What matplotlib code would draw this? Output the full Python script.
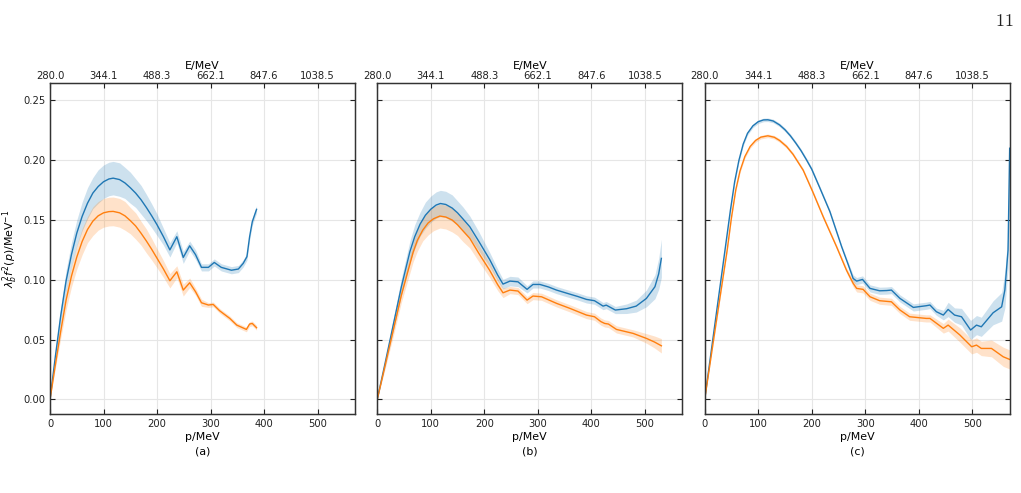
import numpy as np
import matplotlib.pyplot as plt

## data
# panel (a)
pa_b = [0, 10, 20, 30, 40, 50, 60, 70, 80, 90, 100, 110, 118, 130, 140, 150, 160, 170,
        180, 190, 200, 212, 224, 237, 249, 261, 272, 283, 296, 307, 320, 339, 352, 361,
        368, 373, 378, 386]
ya_b = [0, 0.036, 0.070, 0.099, 0.121, 0.139, 0.153, 0.164, 0.1725, 0.178, 0.182, 0.1843,
        0.185, 0.1838, 0.181, 0.177, 0.1725, 0.167, 0.1605, 0.1535, 0.146, 0.136, 0.125,
        0.136, 0.1187, 0.1284, 0.121, 0.1104, 0.1104, 0.1145, 0.1104, 0.108, 0.109, 0.1137,
        0.1193, 0.136, 0.1485, 0.1589]
ea_b = [0, 0.004, 0.007, 0.009, 0.010, 0.011, 0.012, 0.013, 0.013, 0.014, 0.014, 0.014,
        0.014, 0.014, 0.013, 0.013, 0.012, 0.012, 0.011, 0.010, 0.009, 0.007, 0.006, 0.005,
        0.005, 0.004, 0.004, 0.003, 0.003, 0.003, 0.003, 0.003, 0.003, 0.003, 0.003, 0.003,
        0.003, 0.003]
pa_o = [0, 10, 20, 30, 40, 50, 60, 70, 80, 90, 100, 110, 118, 130, 140, 150, 160, 170,
        180, 190, 200, 212, 224, 237, 249, 261, 272, 283, 296, 305, 317, 336, 349, 367,
        373, 378, 386]
ya_o = [0, 0.029, 0.057, 0.083, 0.103, 0.119, 0.132, 0.142, 0.149, 0.1535, 0.156, 0.157,
        0.1572, 0.156, 0.1535, 0.1495, 0.145, 0.139, 0.1325, 0.1255, 0.118, 0.109, 0.0992,
        0.1067, 0.0914, 0.0975, 0.090, 0.0808, 0.0789, 0.0794, 0.0741, 0.0677, 0.0621,
        0.0585, 0.063, 0.0635, 0.0599]
ea_o = [0, 0.003, 0.006, 0.008, 0.009, 0.010, 0.011, 0.011, 0.012, 0.012, 0.012, 0.012,
        0.012, 0.012, 0.012, 0.011, 0.011, 0.010, 0.010, 0.009, 0.008, 0.007, 0.006, 0.005,
        0.005, 0.004, 0.003, 0.003, 0.002, 0.002, 0.002, 0.002, 0.002, 0.002, 0.002, 0.002,
        0.002]

# panel (b)
pb_b = [0, 15, 30, 45, 61, 70, 80, 90, 100, 110, 118, 128, 140, 150, 160, 173, 190, 210,
        225, 235, 248, 263, 280, 291, 304, 320, 335, 360, 375, 391, 406, 415, 422, 428, 445,
        466, 484, 503, 519, 526, 531]
yb_b = [0, 0.031, 0.0625, 0.094, 0.1235, 0.136, 0.1465, 0.154, 0.159, 0.1625, 0.1638,
        0.163, 0.160, 0.156, 0.151, 0.1443, 0.132, 0.117, 0.104, 0.0964, 0.0989, 0.0983,
        0.092, 0.0961, 0.0961, 0.094, 0.0914, 0.088, 0.086, 0.0836, 0.0825, 0.080, 0.078,
        0.0788, 0.0747, 0.0758, 0.078, 0.0844, 0.0942, 0.105, 0.1179]
eb_b = [0, 0.003, 0.005, 0.007, 0.009, 0.010, 0.010, 0.011, 0.011, 0.011, 0.011, 0.011,
        0.011, 0.010, 0.010, 0.009, 0.008, 0.006, 0.005, 0.004, 0.004, 0.004, 0.003, 0.003,
        0.003, 0.003, 0.003, 0.003, 0.003, 0.003, 0.003, 0.003, 0.003, 0.003, 0.003, 0.004,
        0.005, 0.007, 0.010, 0.013, 0.016]
pb_o = [0, 15, 30, 45, 67, 75, 85, 95, 105, 117, 128, 140, 150, 160, 173, 190, 210, 225,
        235, 248, 263, 280, 291, 307, 335, 360, 391, 406, 418, 425, 432, 447, 478, 503, 518,
        531]
yb_o = [0, 0.029, 0.058, 0.087, 0.123, 0.133, 0.1415, 0.1475, 0.151, 0.1533, 0.1525,
        0.150, 0.146, 0.141, 0.1346, 0.122, 0.108, 0.096, 0.0891, 0.0914, 0.0906, 0.083,
        0.0864, 0.0858, 0.0803, 0.0761, 0.0705, 0.0691, 0.065, 0.0635, 0.063, 0.0585,
        0.0552, 0.051, 0.048, 0.0448]
eb_o = [0, 0.003, 0.005, 0.006, 0.008, 0.009, 0.009, 0.010, 0.010, 0.010, 0.010, 0.010,
        0.009, 0.009, 0.008, 0.007, 0.006, 0.005, 0.004, 0.003, 0.003, 0.003, 0.003, 0.003,
        0.003, 0.003, 0.003, 0.003, 0.003, 0.003, 0.003, 0.003, 0.003, 0.004, 0.005, 0.006]

# panel (c)
pc_b = [0, 20, 38, 48, 56, 64, 72, 80, 90, 100, 110, 118, 128, 140, 150, 160, 170, 180,
        190, 200, 215, 234, 256, 268, 277.5, 284, 295, 309, 327, 340, 349, 365, 390, 414,
        421, 433, 446, 455, 467, 480, 497, 508, 517, 539, 555, 561, 567, 570]
yc_b = [0, 0.066, 0.125, 0.158, 0.182, 0.200, 0.2135, 0.2225, 0.2287, 0.2322, 0.2337,
        0.2338, 0.2328, 0.2295, 0.2255, 0.2205, 0.2145, 0.208, 0.2005, 0.1925, 0.177, 0.157,
        0.1276, 0.113, 0.1011, 0.0989, 0.1003, 0.0928, 0.0908, 0.091, 0.0914, 0.0844,
        0.0769, 0.0783, 0.0789, 0.0733, 0.0705, 0.0752, 0.0705, 0.0691, 0.058, 0.0621,
        0.0607, 0.0724, 0.0774, 0.0914, 0.1248, 0.21]
ec_b = [0, 0.0015, 0.0015, 0.0015, 0.0015, 0.0015, 0.0015, 0.0015, 0.0015, 0.0015, 0.0015,
        0.0015, 0.0015, 0.0015, 0.0015, 0.0015, 0.0015, 0.0015, 0.0015, 0.0015, 0.0015,
        0.0015, 0.0015, 0.002, 0.003, 0.003, 0.003, 0.003, 0.003, 0.003, 0.003, 0.003,
        0.003, 0.003, 0.003, 0.003, 0.004, 0.006, 0.006, 0.007, 0.008, 0.008, 0.008, 0.010,
        0.012, 0.015, 0.015, 0.015]
pc_o = [0, 20, 42, 50, 58, 66, 75, 85, 95, 105, 118, 130, 140, 153, 165, 175, 184, 202,
        221.5, 246.5, 265, 277.5, 284, 296, 309, 327, 349, 365, 383, 414, 421, 446, 455,
        477, 499, 508, 517, 536, 558, 570]
yc_o = [0, 0.060, 0.1248, 0.152, 0.175, 0.191, 0.203, 0.2115, 0.2165, 0.2193, 0.2204,
        0.2192, 0.2165, 0.2115, 0.205, 0.198, 0.1917, 0.1735, 0.1527, 0.1276, 0.108, 0.097,
        0.0928, 0.092, 0.0858, 0.0825, 0.0816, 0.0747, 0.0691, 0.0677, 0.0677, 0.0594,
        0.0621, 0.0538, 0.044, 0.0454, 0.0426, 0.0426, 0.0356, 0.0334]
ec_o = [0, 0.0015, 0.0015, 0.0015, 0.0015, 0.0015, 0.0015, 0.0015, 0.0015, 0.0015, 0.0015,
        0.0015, 0.0015, 0.0015, 0.0015, 0.0015, 0.0015, 0.0015, 0.0015, 0.0015, 0.002,
        0.003, 0.003, 0.003, 0.003, 0.003, 0.003, 0.003, 0.003, 0.003, 0.003, 0.004, 0.005,
        0.006, 0.006, 0.006, 0.006, 0.007, 0.008, 0.008]

panel_labels = ["(a)", "(b)", "(c)"]
p_ticks = [0, 100, 200, 300, 400, 500]
E_labels = ["280.0", "344.1", "488.3", "662.1", "847.6", "1038.5"]
y_ticks = [0.00, 0.05, 0.10, 0.15, 0.20, 0.25]

panels = [
    (pa_b, ya_b, ea_b, pa_o, ya_o, ea_o),
    (pb_b, yb_b, eb_b, pb_o, yb_o, eb_o),
    (pc_b, yc_b, ec_b, pc_o, yc_o, ec_o),
]

plt.rcParams["font.family"] = "DejaVu Sans"
fig = plt.figure(figsize=(10.21, 4.93), dpi=100)

lefts = [0.049, 0.3695, 0.6902]
axes = []
for k in range(3):
    ax = fig.add_axes([lefts[k], 0.1596, 0.2987, 0.6714])
    axes.append(ax)
    pb, yb, eb, po, yo, eo = panels[k]
    pb, yb, eb = np.array(pb), np.array(yb), np.array(eb)
    po, yo, eo = np.array(po), np.array(yo), np.array(eo)

    ax.fill_between(pb, yb - eb, yb + eb, color="tab:blue", alpha=0.22, lw=0)
    ax.fill_between(po, yo - eo, yo + eo, color="tab:orange", alpha=0.22, lw=0)
    ax.plot(pb, yb, color="tab:blue", lw=1.0)
    ax.plot(po, yo, color="tab:orange", lw=1.0)

    ax.set_xlim(0, 570)
    ax.set_ylim(-0.0125, 0.2643)
    ax.set_xticks(p_ticks)
    ax.set_yticks(y_ticks)
    ax.grid(True, color="#e6e6e6", lw=0.8)
    ax.set_axisbelow(True)
    ax.tick_params(direction="in", top=False, right=True, labelsize=7.2,
                   colors="#222222", length=3.5)
    if k > 0:
        ax.set_yticklabels([])
    for s in ax.spines.values():
        s.set_color("#333333")
        s.set_linewidth(1.0)
    ax.set_xlabel("p/MeV\n" + panel_labels[k], fontsize=7.9, linespacing=1.6, labelpad=2)

    top = ax.twiny()
    top.set_xlim(ax.get_xlim())
    top.set_xticks(p_ticks)
    top.set_xticklabels(E_labels)
    top.tick_params(direction="in", labelsize=7.2, colors="#222222", length=3.5, pad=2)
    top.set_xlabel("E/MeV", fontsize=7.9, labelpad=1)
    for s in top.spines.values():
        s.set_color("#333333")

axes[0].set_ylabel(r"$\lambda_b^2f^2(p)$/MeV$^{-1}$", fontsize=7.9, labelpad=2)

# page number of the paper
fig.text(0.993, 0.975, r"$\mathrm{11}$", ha="right", va="top", fontsize=13,
         math_fontfamily="cm", color="#222222")

plt.savefig("out.png", dpi=100)
